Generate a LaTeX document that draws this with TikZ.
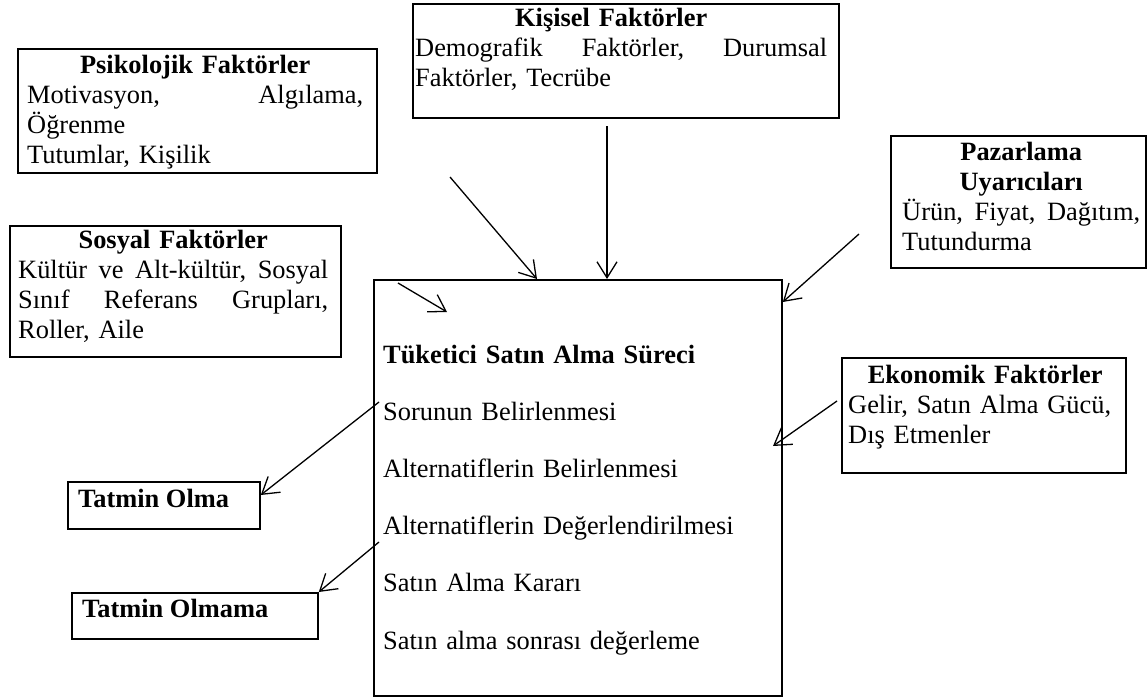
\documentclass[tikz,border=0pt]{standalone}
\usepackage{fontspec}
\setmainfont{Liberation Serif}
\usetikzlibrary{arrows.meta}

% centred bold heading line inside a flush-left text block
\newcommand{\headline}[1]{\hfill\textbf{#1}\hfill\null}

\tikzset{
  frame/.style={draw, line width=1.8pt, inner sep=0pt, anchor=north west},
  body/.style={anchor=base west, inner sep=0pt, text width=#1, align=left,
               font=\fontsize{26.4}{30}\selectfont},
  tag/.style={anchor=base west, inner sep=0pt, font=\fontsize{26.4}{30}\selectfont\bfseries},
  link/.style={line width=1.3pt, -{Straight Barb[length=16pt,width=20pt]}},
}

\begin{document}
\begin{tikzpicture}[x=1pt,y=-1pt]
\useasboundingbox (0,0) rectangle (1147,698);

% frames
\node[frame, minimum width=359pt, minimum height=124pt] (psy)    at (17,48)   {};
\node[frame, minimum width=426pt, minimum height=114pt] (kis)    at (412,3)   {};
\node[frame, minimum width=331pt, minimum height=131pt] (sos)    at (9,225)   {};
\node[frame, minimum width=255pt, minimum height=132pt] (paz)    at (890,135) {};
\node[frame, minimum width=284pt, minimum height=115pt] (eko)    at (841,357) {};
\node[frame, minimum width=408pt, minimum height=416pt] (main)   at (373,279) {};
\node[frame, minimum width=192pt, minimum height=47pt]  (olma)   at (67,481)  {};
\node[frame, minimum width=246pt, minimum height=46pt]  (olmama) at (71,592)  {};

% texts
\node[body=336pt] (psytxt) at (27,74) {\headline{Psikolojik Faktörler}\\
  Motivasyon,\hfill Algılama,\\ Öğrenme\\ Tutumlar, Kişilik};
\node[body=412pt] (kistxt) at (415,27) {\hfill\textbf{Kişisel Faktörler}\hfill\hspace*{20pt}\null\\
  Demografik\hfill Faktörler,\hfill Durumsal\\ Faktörler, Tecrübe};
\node[body=310pt] (sostxt) at (18,248) {\headline{Sosyal Faktörler}\\
  Kültür\hfill ve\hfill Alt-kültür,\hfill Sosyal\\
  Sınıf\hfill Referans\hfill Grupları,\\ Roller, Aile};
\node[body=238pt] (paztxt) at (902,160) {\headline{Pazarlama}\\ \headline{Uyarıcıları}\\
  Ürün,\hfill Fiyat,\hfill Dağıtım,\\ Tutundurma};
\node[body=274pt] (ekotxt) at (848,383) {\headline{Ekonomik Faktörler}\\
  Gelir, Satın Alma Gücü,\\ Dış Etmenler};
\node[body=390pt, font=\fontsize{26.4}{57.2}\selectfont] (maintxt) at (383,363) {%
  \textbf{Tüketici Satın Alma Süreci}\\
  Sorunun Belirlenmesi\\
  Alternatiflerin Belirlenmesi\\
  Alternatiflerin Değerlendirilmesi\\
  Satın Alma Kararı\\
  Satın alma sonrası değerleme};
\node[tag] (olmatxt)   at (78,507) {Tatmin Olma};
\node[tag] (olmamatxt) at (82,617) {Tatmin Olmama};

% connectors
\coordinate (psyT) at (450,177);
\coordinate (kisT) at (607,126);
\coordinate (pazT) at (859,234);
\coordinate (ekoT) at (837,401);
\coordinate (ekoH) at (773,446);
\coordinate (sosT) at (398,283);
\coordinate (sosH) at (447,312);
\coordinate (olmaT) at (379,402);
\coordinate (olmamaT) at (379,542);

\draw[link] (psyT) -- ([xshift=164pt]main.north west);
\draw[link] (kisT) -- (kisT |- main.north);
\draw[link] (pazT) -- ([yshift=-23pt]main.north east);
\draw[link] (ekoT) -- (ekoH);
\draw[link] (sosT) -- (sosH);
\draw[link] (olmaT) -- ([yshift=-14pt]olma.north east);
\draw[link] (olmamaT) -- (olmama.north east);
\end{tikzpicture}
\end{document}
